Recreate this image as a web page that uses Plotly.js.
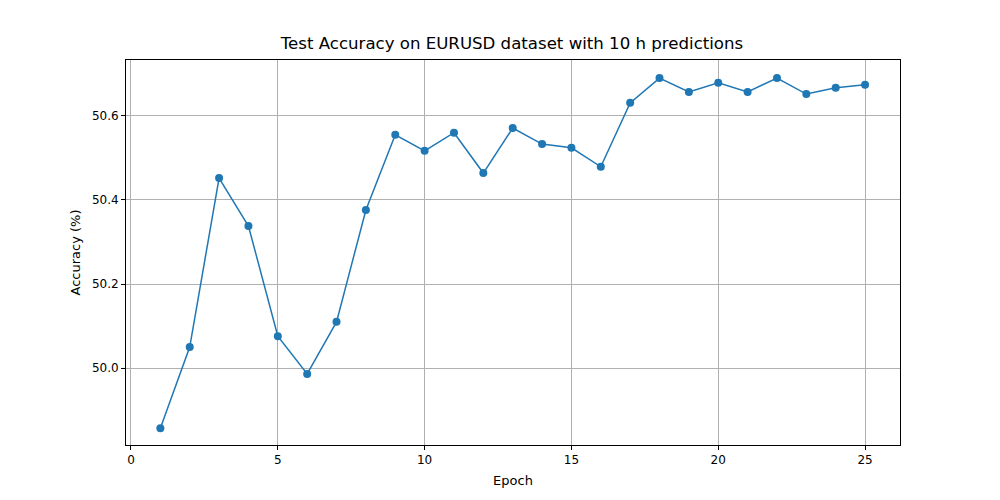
<!DOCTYPE html>
<html>
<head>
<script src="https://cdn.plot.ly/plotly-3.0.1.min.js"></script>
<style>body{margin:0}</style>
</head>
<body>
<div id="chart" style="width:1000px;height:500px"></div>
<script>
const epochs = [1,2,3,4,5,6,7,8,9,10,11,12,13,14,15,16,17,18,19,20,21,22,23,24,25];
const accuracy = [49.857,50.05,50.452,50.338,50.076,49.986,50.11,50.376,50.555,50.517,50.56,50.464,50.571,50.533,50.524,50.479,50.631,50.69,50.657,50.679,50.657,50.69,50.652,50.667,50.674];

const axisStyle = {
  showline: true, mirror: true, linecolor: '#000', linewidth: 1,
  ticks: 'outside', ticklen: 4, tickcolor: '#000',
  showgrid: true, gridcolor: '#b0b0b0', gridwidth: 1, zeroline: false,
  tickfont: { size: 12, color: '#000' }
};

Plotly.newPlot('chart', [{
  x: epochs, y: accuracy, type: 'scatter', mode: 'lines+markers',
  line: { color: '#1f77b4', width: 1.5 },
  marker: { color: '#1f77b4', size: 8 }
}], {
  width: 1000, height: 500,
  margin: { l: 126, r: 100, t: 60, b: 55 },
  paper_bgcolor: '#fff', plot_bgcolor: '#fff',
  font: { family: 'DejaVu Sans', color: '#000' },
  title: { text: 'Test Accuracy on EURUSD dataset with 10 h predictions', font: { size: 16.6 }, x: 0.512, y: 0.925 },
  xaxis: Object.assign({}, axisStyle, {
    range: [-0.17, 26.19], tickvals: [0,5,10,15,20,25],
    title: { text: 'Epoch', font: { size: 13 }, standoff: 9 }
  }),
  yaxis: Object.assign({}, axisStyle, {
    range: [49.817, 50.733], tickvals: [50.0,50.2,50.4,50.6], ticktext: ['50.0','50.2','50.4','50.6'],
    title: { text: 'Accuracy (%)', font: { size: 13 }, standoff: 8 }
  }),
  showlegend: false
}, { displayModeBar: false });
</script>
</body>
</html>
